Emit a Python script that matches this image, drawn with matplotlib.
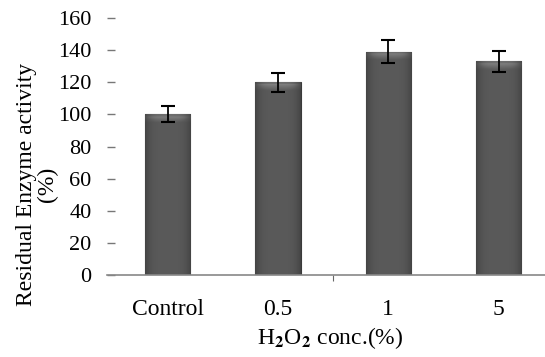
import numpy as np
import matplotlib
matplotlib.use("Agg")
import matplotlib.pyplot as plt
from matplotlib.colors import LinearSegmentedColormap

# residual activity after H2O2 treatment
categories = ["Control", "0.5", "1", "5"]
activity = [100, 120, 139, 133]
errors = [5, 6, 7, 6.5]
yticks = [0, 20, 40, 60, 80, 100, 120, 140, 160]

plt.rcParams['font.family'] = ['Liberation Serif', 'DejaVu Serif']
plt.rcParams['mathtext.fontset'] = 'stix'

fig = plt.figure(figsize=(5.45, 3.57), dpi=100)
ax = fig.add_axes([107 / 545, 1 - 275 / 357, 438 / 545, (275 - 18) / 357])

x = np.arange(len(categories))
width = 0.41
bars = ax.bar(x, activity, width, color="#555555", edgecolor="#3a3a3a",
              linewidth=0.8, zorder=2)

# shaded look: darker at the sides, lighter band along the top
cmap = LinearSegmentedColormap.from_list("bar", ["#3c3c3c", "#5a5a5a", "#8a8a8a"])
for b, h in zip(bars, activity):
    x0 = b.get_x()
    x1 = x0 + b.get_width()
    rows = 200
    cols = 40
    yy = np.linspace(0, h, rows)[:, None]
    xx = np.linspace(-1, 1, cols)[None, :]
    side = 0.5 - 0.35 * np.abs(xx) ** 4
    top = np.clip((yy - (h - 5)) / 5, 0, 1)
    top = np.where(yy > h - 1.2, 0.4, top)
    img = side + 0.5 * top * (1 - 0.5 * np.abs(xx) ** 4)
    im = ax.imshow(img, extent=(x0, x1, 0, h), origin="lower", cmap=cmap,
                   vmin=0, vmax=1, aspect="auto", zorder=2.5,
                   interpolation="bilinear")
    im.set_clip_path(b)

ax.errorbar(x, activity, yerr=errors, fmt="none", ecolor="black",
            elinewidth=1.3, capsize=5, capthick=1.5, zorder=3)

ax.set_xlim(-0.55, 3.42)
ax.set_ylim(0, 160)
ax.set_yticks(yticks)
ax.set_xticks([1.5])
ax.set_xticklabels([""])
ax.tick_params(axis="x", direction="out", length=4, color="#666666")
ax.tick_params(axis="y", direction="in", length=6, width=1, color="#777777",
               labelsize=16, pad=11)
for i, c in enumerate(categories):
    ax.text(x[i], -21.5, c, ha="center", va="center", fontsize=17,
            transform=ax.transData, clip_on=False)

for s in ["top", "right", "left"]:
    ax.spines[s].set_visible(False)
ax.spines["bottom"].set_color("#888888")
ax.spines["bottom"].set_linewidth(1.2)

fig.text(330 / 545, 1 - 338 / 357, r"H$_{\mathbf{2}}$O$_{\mathbf{2}}$ conc.(%)",
         ha="center", va="center", fontsize=17)
fig.text(37 / 545, 1 - 184 / 357, "Residual Enzyme activity\n(%)",
         ha="center", va="center", rotation=90, fontsize=17,
         linespacing=1.0)

fig.savefig("out.png", dpi=100)
